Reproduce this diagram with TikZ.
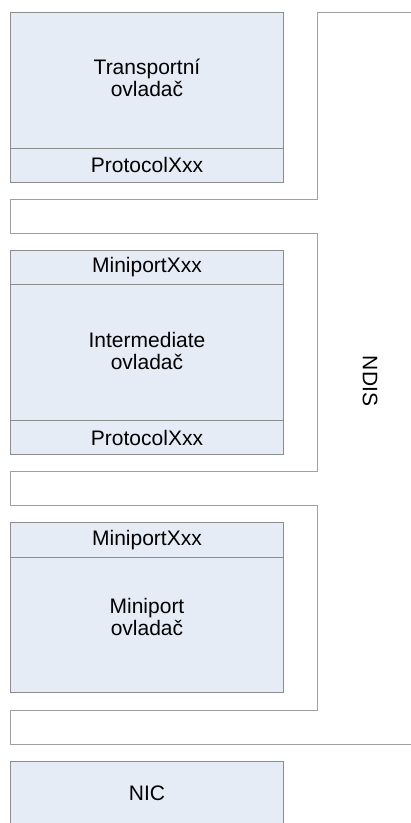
\documentclass[tikz,border=0pt]{standalone}
\usepackage{fontspec}
\setmainfont{Liberation Sans}
\usepackage{tikz}
\definecolor{layerfill}{HTML}{E6ECF6}
\definecolor{layerline}{HTML}{8C8C8C}
\definecolor{ndisline}{HTML}{A0A0A0}
\tikzset{
  layer/.style={draw=layerline, fill=layerfill, line width=0.9pt},
  label/.style={align=center, font=\fontsize{21}{22.5}\selectfont},
  ndis/.style={draw=ndisline, line width=1pt}
}

\begin{document}
\begin{tikzpicture}[x=1pt, y=-1pt]
\clip (0,0) rectangle (411,823);

% NDIS
\draw[ndis] (411,12.7) -- (317,12.7) -- (317,199) -- (10.7,199) -- (10.7,233) -- (317,233)
  -- (317,471.3) -- (10.7,471.3) -- (10.7,505.7) -- (317,505.7) -- (317,710) -- (10.7,710)
  -- (10.7,744.3) -- (411,744.3);
\node[label, rotate=-90] (ndis) at (370,381) {NDIS};

% transport
\draw[layer] (10.7,12.7) rectangle (283,182);
\draw[layerline, line width=0.9pt] (10.7,148) -- (283,148);
\node[label] (transport) at (147,78) {Transportní\\ovladač};
\node[label] (protoA) at (147,165) {ProtocolXxx};

% intermediate
\draw[layer] (10.7,250.7) rectangle (283,454.3);
\draw[layerline, line width=0.9pt] (10.7,284.3) -- (283,284.3);
\draw[layerline, line width=0.9pt] (10.7,420.7) -- (283,420.7);
\node[label] (miniA) at (147,267.5) {MiniportXxx};
\node[label] (inter) at (147,351) {Intermediate\\ovladač};
\node[label] (protoB) at (147,437.5) {ProtocolXxx};

% miniport
\draw[layer] (10.7,522.7) rectangle (283,692.7);
\draw[layerline, line width=0.9pt] (10.7,557.3) -- (283,557.3);
\node[label] (miniB) at (147,540) {MiniportXxx};
\node[label] (miniport) at (147,617) {Miniport\\ovladač};

% NIC
\draw[layer] (10.7,761) rectangle (283,840);
\node[label] (nic) at (147,793) {NIC};
\end{tikzpicture}
\end{document}
